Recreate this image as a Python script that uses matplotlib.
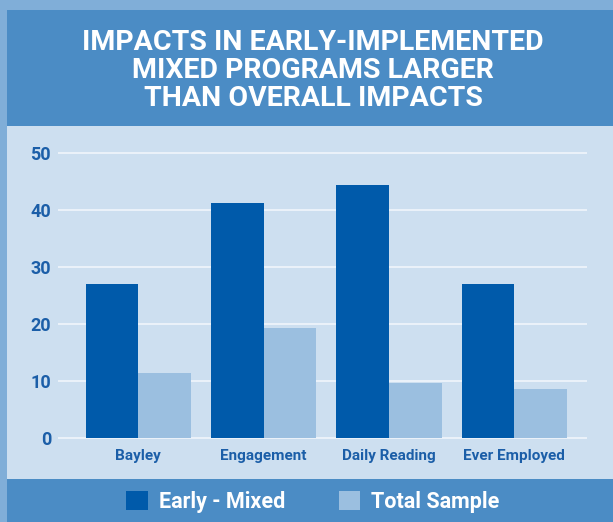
import matplotlib.pyplot as plt
from matplotlib.patches import Rectangle
import numpy as np

plt.rcParams['font.family'] = ['Roboto', 'DejaVu Sans']

categories = ['Bayley', 'Engagement', 'Daily Reading', 'Ever Employed']
early_mixed = [27.0, 41.3, 44.3, 27.0]
total_sample = [11.4, 19.3, 9.6, 8.6]
yticks = [0, 10, 20, 30, 40, 50]
title_lines = ['IMPACTS IN EARLY-IMPLEMENTED', 'MIXED PROGRAMS LARGER', 'THAN OVERALL IMPACTS']

W, H = 613, 522
dark = '#005aaa'
light = '#9bbfe0'
band = '#4b8cc5'
panel = '#cddff0'
frame = '#80aed8'
label_col = '#1b5ea8'

fig = plt.figure(figsize=(W / 100, H / 100), dpi=100, facecolor=frame)


def box(x0, y0, x1, y1, color):
    # pixel coords with origin top-left
    fig.add_artist(Rectangle((x0 / W, 1 - y1 / H), (x1 - x0) / W, (y1 - y0) / H,
                             transform=fig.transFigure, color=color, lw=0, zorder=0))


box(7, 10, W, 126, band)
box(7, 126, W, 479, panel)
box(7, 479, W, H, band)

for i, line in enumerate(title_lines):
    fig.text(313 / W, 1 - (42 + 28 * i) / H, line, ha='center', va='center',
             color='white', fontsize=20.5, fontweight='bold')

# axes: x 58..587 px, y value 0 at 438 px, 50 at 153 px
ppu = (438 - 153) / 50
ylo, yhi = -0.3, 51
top_px = 438 - yhi * ppu
bot_px = 438 - ylo * ppu
ax = fig.add_axes([58 / W, 1 - bot_px / H, (587 - 58) / W, (bot_px - top_px) / H])
ax.set_facecolor('none')

x = np.arange(len(categories))
w = 0.42
b1 = ax.bar(x - w / 2, early_mixed, w, color=dark, label='Early - Mixed', zorder=3)
b2 = ax.bar(x + w / 2, total_sample, w, color=light, label='Total Sample', zorder=3)

ax.set_xlim(-0.64, 3.58)
ax.set_ylim(ylo, yhi)
ax.set_yticks(yticks)
ax.set_xticks(x)
ax.set_xticklabels(categories)
ax.yaxis.grid(True, color='#eef4fa', lw=1.3)
ax.set_axisbelow(True)
for s in ax.spines.values():
    s.set_visible(False)
ax.tick_params(axis='both', length=0, colors=label_col)
ax.tick_params(axis='y', pad=5, labelsize=13)
ax.tick_params(axis='x', pad=7, labelsize=11)
for t in ax.get_xticklabels() + ax.get_yticklabels():
    t.set_fontweight('bold')

leg = fig.legend(handles=[b1, b2], loc='center', bbox_to_anchor=(313 / W, 1 - 502 / H),
                 ncol=2, frameon=False, fontsize=15.5, handlelength=1.0, handleheight=1.0,
                 handletextpad=0.5, columnspacing=2.5)
for t in leg.get_texts():
    t.set_color('white')
    t.set_fontweight('bold')

fig.savefig('out.png', dpi=100, facecolor=frame)
